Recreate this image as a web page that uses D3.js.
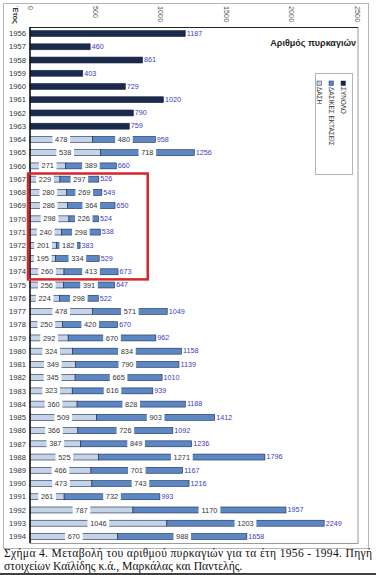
<!DOCTYPE html>
<meta charset="utf-8">
<script src="https://d3js.org/d3.v7.min.js"></script>
<style>
  body { margin: 0; background: #fff; }
</style>
<div id="chart"></div>
<script>

// data
var years = [1956,1957,1958,1959,1960,1961,1962,1963,1964,1965,1966,1967,1968,1969,1970,
  1971,1972,1973,1974,1975,1976,1977,1978,1979,1980,1981,1982,1983,1984,1985,1986,1987,
  1988,1989,1990,1991,1992,1993,1994];
// ΔΑΣΗ (forests)
var dasi = [null,null,null,null,null,null,null,null,478,538,271,229,280,286,298,
  240,201,195,260,256,224,478,250,292,324,349,345,323,360,509,366,387,
  525,466,473,261,787,1046,670];
// ΔΑΣΙΚΕΣ ΕΚΤΑΣΕΙΣ (forest areas)
var dasikes = [null,null,null,null,null,null,null,null,480,718,389,297,269,364,226,
  298,182,334,413,391,298,571,420,670,834,790,665,616,828,903,726,849,
  1271,701,743,732,1170,1203,988];
// ΣΥΝΟΛΟ (total)
var synolo = [1187,460,861,403,729,1020,790,759,958,1256,660,526,549,650,524,
  538,383,529,673,647,522,1049,670,962,1158,1139,1010,939,1188,1412,1092,1236,
  1796,1167,1216,993,1957,2249,1658];
var xTicks = [0,500,1000,1500,2000,2500];
var legendNames = ["ΣΥΝΟΛΟ","ΔΑΣΙΚΕΣ ΕΚΤΑΣΕΙΣ","ΔΑΣΗ"];

var W = 376, H = 575;
var cDark = "#1b2a4b", cMid = "#5b87c5", cLight = "#c5d3e8", cLine = "#1b2a4b";

var svg = d3.select("#chart").append("svg")
  .attr("width", W).attr("height", H)
  .style("font-family", "Arial, 'Liberation Sans', sans-serif");

// outer chart frame
svg.append("rect")
  .attr("x", 3.5).attr("y", 3.5).attr("width", 365).attr("height", 545)
  .attr("fill", "none").attr("stroke", "#b5b5b5");

var pLeft = 30, pRight = 358, pTop = 27, pBottom = 543;

var x = d3.scaleLinear().domain([0,2500]).range([pLeft, pRight - 1]);
var y = d3.scaleBand().domain(years).range([pTop, pBottom]).paddingInner(0.55).paddingOuter(0.27);

// plot area frame
svg.append("rect")
  .attr("x", pLeft).attr("y", pTop + 0.5).attr("width", pRight - pLeft).attr("height", pBottom - pTop)
  .attr("fill", "none").attr("stroke", "#9a9a9a");
svg.append("line")
  .attr("x1", pLeft).attr("x2", pRight).attr("y1", pTop + 0.5).attr("y2", pTop + 0.5)
  .attr("stroke", "#222");

// top axis tick labels (rotated)
svg.selectAll(".xt").data(xTicks).enter().append("text")
  .attr("transform", function(d) { return "translate(" + (x(d) - 2.5) + ",6) rotate(90)"; })
  .attr("font-size", 7.3).attr("fill", "#555")
  .text(function(d) { return d; });

svg.append("text")
  .attr("transform", "translate(13,6) rotate(90)")
  .attr("font-size", 7.5).attr("font-weight", "bold").attr("fill", "#333")
  .text("Έτος");

// category labels
svg.selectAll(".yl").data(years).enter().append("text")
  .attr("x", 26).attr("y", function(d) { return y(d) + y.bandwidth() / 2 + 2.7; })
  .attr("text-anchor", "end").attr("font-size", 7.6).attr("fill", "#333")
  .text(function(d) { return d; });

var rows = years.map(function(yr, i) {
  return { year: yr, dasi: dasi[i], dasikes: dasikes[i], total: synolo[i] };
});
var bh = y.bandwidth();

// bars
rows.forEach(function(r) {
  var yy = y(r.year);
  if (r.dasi == null) {
    svg.append("rect")
      .attr("x", x(0)).attr("y", yy).attr("width", x(r.total) - x(0)).attr("height", bh)
      .attr("fill", cDark).attr("stroke", cLine).attr("stroke-width", 0.6);
  } else {
    svg.append("rect")
      .attr("x", x(0)).attr("y", yy).attr("width", x(r.dasi) - x(0)).attr("height", bh)
      .attr("fill", cLight).attr("stroke", cLine).attr("stroke-width", 0.6);
    svg.append("rect")
      .attr("x", x(r.dasi)).attr("y", yy).attr("width", x(r.dasi + r.dasikes) - x(r.dasi)).attr("height", bh)
      .attr("fill", cMid).attr("stroke", cLine).attr("stroke-width", 0.6);
    // segment labels with white boxes
    [[0, r.dasi], [r.dasi, r.dasikes]].forEach(function(s) {
      var cx = x(s[0] + s[1] / 2);
      var t = String(s[1]);
      var w = t.length * 4.2 + 5;
      svg.append("rect")
        .attr("x", cx - w / 2).attr("y", yy - 2).attr("width", w).attr("height", bh + 4)
        .attr("fill", "#fff");
      svg.append("text")
        .attr("x", cx).attr("y", yy + bh / 2 + 2.6)
        .attr("text-anchor", "middle").attr("font-size", 7.4).attr("fill", "#333")
        .text(t);
    });
  }
  svg.append("text")
    .attr("x", x(r.total) + 1.5).attr("y", yy + bh / 2 + 2.3)
    .attr("font-size", 7.2).attr("fill", "#3b3bbf")
    .text(r.total);
});

// axis line
svg.append("line")
  .attr("x1", pLeft).attr("x2", pLeft).attr("y1", pTop).attr("y2", pBottom)
  .attr("stroke", "#111").attr("stroke-width", 1.5);

// title
svg.append("text")
  .attr("x", 356).attr("y", 46).attr("text-anchor", "end")
  .attr("font-size", 9).attr("font-weight", "bold").attr("fill", "#222")
  .text("Αριθμός πυρκαγιών");

// legend
svg.append("rect")
  .attr("x", 315.5).attr("y", 73.5).attr("width", 37).attr("height", 101)
  .attr("fill", "#fff").attr("stroke", "#b5b5b5");
var legColors = [cDark, cMid, cLight];
legendNames.forEach(function(n, i) {
  var lx = 345 - i * 12;
  svg.append("rect")
    .attr("x", lx - 4).attr("y", 81).attr("width", 4.5).attr("height", 4.5)
    .attr("fill", legColors[i]).attr("stroke", cLine).attr("stroke-width", 0.5);
  svg.append("text")
    .attr("transform", "translate(" + (lx - 4.5) + ",87) rotate(90)")
    .attr("font-size", 6.4).attr("fill", "#333")
    .text(n);
});

// highlight box 1967-1974
svg.append("rect")
  .attr("x", 28).attr("y", y(1967) - (y.step() - bh) / 2 + 1)
  .attr("width", x(900) - 28)
  .attr("height", y(1974) - y(1967) + y.step())
  .attr("fill", "none").attr("stroke", "#d7262b").attr("stroke-width", 2.5);

// caption
svg.append("text")
  .attr("x", 4).attr("y", 557).attr("textLength", 368).attr("lengthAdjust", "spacing")
  .attr("font-family", "'Liberation Serif', 'Times New Roman', serif").attr("font-size", 11.5).attr("fill", "#111")
  .text("Σχήμα 4. Μεταβολή του αριθμού πυρκαγιών για τα έτη 1956 - 1994. Πηγή");
svg.append("text")
  .attr("x", 4).attr("y", 570)
  .attr("font-family", "'Liberation Serif', 'Times New Roman', serif").attr("font-size", 11.7).attr("fill", "#111")
  .text("στοιχείων Καϊλίδης κ.ά., Μαρκάλας και Παντελής.");
svg.append("line")
  .attr("x1", 0).attr("x2", W).attr("y1", 574).attr("y2", 574)
  .attr("stroke", "#000").attr("stroke-width", 1.5);

</script>
